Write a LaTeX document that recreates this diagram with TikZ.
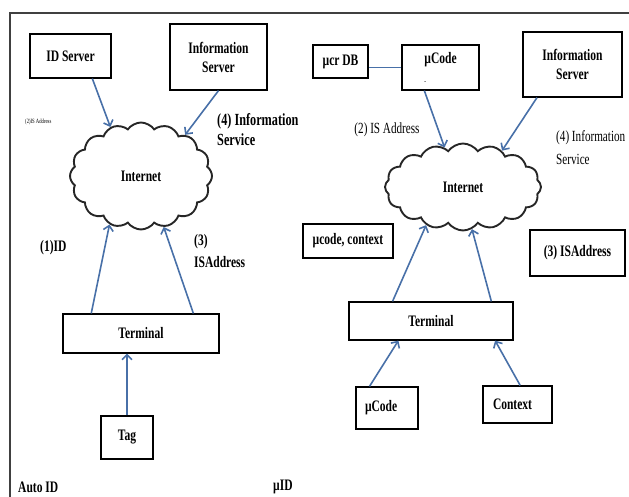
\documentclass[tikz,border=0pt]{standalone}
\usepackage{fontspec}
\setmainfont{Liberation Serif}[FakeStretch=0.72]
\usetikzlibrary{shapes.symbols,arrows.meta}
\definecolor{linkblue}{RGB}{72,112,168}

\begin{document}
\begin{tikzpicture}
  [x=1pt,y=-1pt,
   every node/.style={inner sep=0pt,font=\fontsize{15.5}{18}\selectfont},
   heavy/.style={font=\fontsize{16}{19}\selectfont\bfseries},
   box/.style={draw,line width=1.2pt,heavy,align=center},
   net/.style={cloud,cloud puffs=16,cloud puff arc=110,cloud ignores aspect,draw=black!85,line width=1.9pt,heavy},
   link/.style={draw=linkblue,line width=1.6pt,-{Straight Barb[length=5pt,width=10pt]}}]
  \useasboundingbox (0,0) rectangle (629,497);
  \draw[line width=1.3pt,black!75] (629,13) -- (10,13) -- (10,497);

  % Auto ID side
  \node[box,minimum width=81pt,minimum height=44pt] (ids) at (70.5,56) {ID Server};
  \node[box,minimum width=97pt,minimum height=66pt] (infl) at (218.5,57) {Information\\Server};
  \node[net,minimum width=142pt,minimum height=107pt] (cloudl) at (141,176) {Internet};
  \node[box,minimum width=156pt,minimum height=39pt] (terml) at (141,333.5) {Terminal};
  \node[box,minimum width=52pt,minimum height=43pt] (tag) at (127,437.5) {Tag};

  \node[anchor=west,font=\fontsize{6.5}{8}\selectfont] (lbl2l) at (25,122) {(2)IS Address};
  \node[anchor=west,align=left,font=\fontsize{17}{20}\selectfont\bfseries] (lbl4l) at (217,129.5) {(4) Information\\Service};
  \node[anchor=west,heavy] (lbl1) at (40,248) {(1)ID};
  \node[anchor=west,align=left,heavy] (lbl3l) at (194,251) {(3)\\[3pt]ISAddress};
  \node[anchor=west,heavy] (auto) at (18,487) {Auto ID};

  \foreach \from/\to in {ids.-46/cloudl.122,infl.south/cloudl.43,terml.158/cloudl.237,terml.21/cloudl.-66}
    \draw[link] (\from) -- (\to);
  \draw[link] (tag.north) -- (tag.north |- terml.south);

  % uID side
  \node[box,minimum width=55pt,minimum height=33pt] (crdb) at (340.5,61.5) {µcr DB};
  \node[box,align=left,minimum width=77pt,minimum height=45pt] (ucs) at (440.5,67.5) {µCode\\[1pt]{\scriptsize -}};
  \node[box,minimum width=99pt,minimum height=65pt] (infr) at (572.5,64.5) {Information\\Server};
  \node[net,minimum width=156pt,minimum height=87pt] (cloudr) at (463,187) {Internet};
  \node[box,minimum width=90pt,minimum height=34pt] (uctx) at (348,241) {µcode, context};
  \node[box,minimum width=95pt,minimum height=46pt] (isa) at (577.5,253) {(3) ISAddress};
  \node[box,minimum width=164pt,minimum height=38pt] (termr) at (431,321) {Terminal};
  \node[box,text width=44pt,inner xsep=9pt,align=left,minimum height=42pt] (ucb) at (387,408) {µCode};
  \node[box,text width=49pt,inner xsep=10pt,align=left,minimum height=37pt] (ctx) at (517.5,404.5) {Context};

  \node (lbl2r) at (387,130) {(2) IS Address};
  \node[anchor=west,align=left] (lbl4r) at (556,148) {(4) Information\\[5pt]Service};
  \node[anchor=west,heavy] (uid) at (273,487) {µID};

  \draw[draw=linkblue,line width=1pt] (ucs.west) -- (ucs.west -| crdb.east);
  \foreach \from/\to in {ucs.235/cloudr.115,infr.223/cloudr.43,termr.153/cloudr.226,termr.18/cloudr.-78,ucb.129/termr.211,ctx.82/termr.-17}
    \draw[link] (\from) -- (\to);

\end{tikzpicture}
\end{document}
